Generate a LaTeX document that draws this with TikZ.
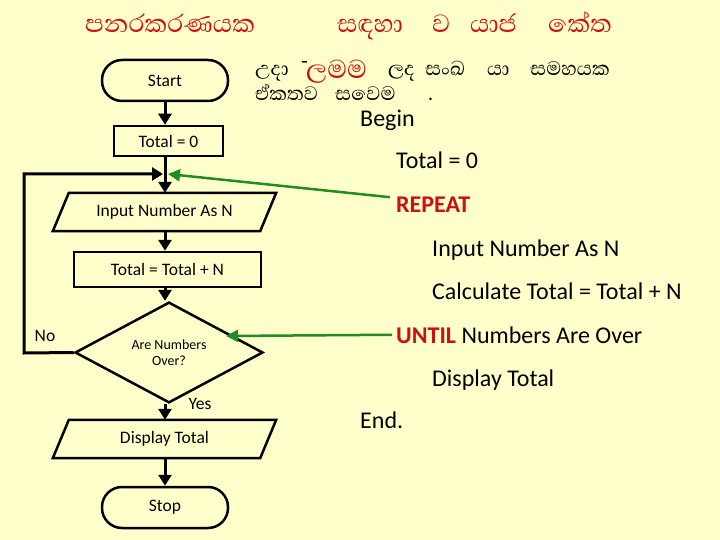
\documentclass[tikz,border=0pt]{standalone}
\usepackage{fontspec}
\setmainfont{Carlito}
\newfontfamily\sinhalafont[Script=Sinhala]{Abhaya Libre}
\usetikzlibrary{arrows.meta,shapes.geometric}
\definecolor{bg}{RGB}{255,255,204}
\definecolor{tred}{RGB}{204,16,16}
\definecolor{gline}{RGB}{34,139,34}
\begin{document}
\begin{tikzpicture}[x=1pt,y=-1pt,
  fcfont/.style={font=\fontsize{17.5}{20}\selectfont},
  term/.style={draw, line width=2.5pt, rounded corners=20pt, minimum width=126pt, minimum height=41pt, inner sep=0pt, fcfont},
  procbox/.style={draw, line width=2.5pt, inner sep=0pt, fcfont},
  iobox/.style={minimum width=207pt, minimum height=38pt, inner sep=0pt, fcfont},
  iodraw/.style={line width=2.5pt, line join=miter},
  decbox/.style={draw, diamond, line width=2.5pt, minimum width=188pt, minimum height=81pt, inner sep=0pt, font=\fontsize{14}{16}\selectfont, align=center},
  flow/.style={line width=3pt, -{Triangle[width=13pt,length=11pt]}},
  garrow/.style={draw=gline, line width=2.5pt, -{Triangle[width=12pt,length=12pt]}},
  code/.style={anchor=base west, inner sep=0pt, font=\fontsize{24}{28}\selectfont},
  sintitle/.style={anchor=base west, inner sep=0pt, text=tred, font=\sinhalafont\fontsize{32}{34}\selectfont},
  sintext/.style={anchor=base west, inner sep=0pt, font=\sinhalafont\fontsize{25}{28}\selectfont},
  lbl/.style={inner sep=0pt, fcfont},
]
\useasboundingbox (0,0) rectangle (720,540);
\fill[bg] (0,0) rectangle (720,540);

% title
\node[sintitle] (w1) at (85,33) {පනරකරණයක};
\node[sintitle] (w2) at (337,33) {සඳහා};
\node[sintitle] (w3) at (432,33) {ව};
\node[sintitle] (w4) at (470,33) {යාජ};
\node[sintitle] (w5) at (548,33) {කේත};

% description
\node[sintext] (d1) at (255,76) {උදා};
\node[sintext, text=tred, font=\sinhalafont\fontsize{33}{35}\selectfont] (d3) at (306,79) {ලමම};
\node[anchor=base west, inner sep=0pt, font=\fontsize{22}{24}\selectfont] (d2) at (301,69) {-};
\node[sintext] (d4) at (388,76) {ලද};
\node[sintext] (d5) at (425,76) {සංඛ};
\node[sintext] (d6) at (487,76) {යා};
\node[sintext] (d7) at (530,76) {සමහයක};
\node[sintext] (d8) at (255,101) {ඒකතව};
\node[sintext] (d9) at (335,101) {සවෙම};
\node[sintext] (d10) at (428,101) {.};

% flowchart
\node[term] (start) at (165,80.5) {Start};
\node[procbox, minimum width=109pt, minimum height=30pt] (t0) at (168.5,141) {Total = 0};
\node[iobox] (in) at (164.5,212) {Input Number As N};
\draw[iodraw] ([xshift=8pt]in.north west) -- ([xshift=8pt]in.north east) -- ([xshift=-8pt]in.south east) -- ([xshift=-8pt]in.south west) -- cycle;
\node[procbox, minimum width=187pt, minimum height=35pt] (t1) at (167.5,269.5) {Total = Total + N};
\node[decbox] (dec) at (169,352.5) {Are Numbers\\Over?};
\node[iobox] (out) at (164.5,439) {Display Total};
\draw[iodraw] ([xshift=8pt]out.north west) -- ([xshift=8pt]out.north east) -- ([xshift=-8pt]out.south east) -- ([xshift=-8pt]out.south west) -- cycle;
\node[term] (stop) at (165,507.5) {Stop};

\coordinate (merge) at (163,174);
\coordinate (mergeR) at (168,174);
\coordinate (loopbot) at (24,353);
\coordinate (looptop) at (24,174);
\coordinate (dece) at (226,336);

\draw[flow] (start.south) -- (start.south |- t0.north);
\draw[flow] (start.south |- t0.south) -- (start.south |- in.north);
\draw[flow] (dec.west) -- (loopbot) -- (looptop) -- (merge);
\draw[flow] (start.south |- in.south) -- (start.south |- t1.north);
\draw[flow] (start.south |- t1.south) -- (start.south |- dec.north);
\draw[flow] (start.south |- dec.south) -- (start.south |- out.north);
\draw[flow] (start.south |- out.south) -- (start.south |- stop.north);

\node[lbl] (no) at (45,336) {No};
\node[lbl] (yes) at (200,404) {Yes};

% pseudo code
\node[code] (begin) at (360,127) {Begin};
\node[code] (ct0) at (396,169) {Total = 0};
\node[code, text=tred, font=\bfseries\fontsize{24}{28}\selectfont] (repeat) at (396,213) {REPEAT};
\node[code] (cin) at (432,256) {Input Number As N};
\node[code] (calc) at (432,299) {Calculate Total = Total + N};
\node[code] (until) at (396,343) {{\color{tred}\bfseries UNTIL} Numbers Are Over};
\node[code] (disp) at (432,386) {Display Total};
\node[code] (endn) at (360,428) {End.};

\draw[garrow] ([xshift=-6pt,yshift=8pt]repeat.west) -- (mergeR);
\draw[garrow] ([xshift=-4pt]until.west) -- (dece);
\end{tikzpicture}
\end{document}
